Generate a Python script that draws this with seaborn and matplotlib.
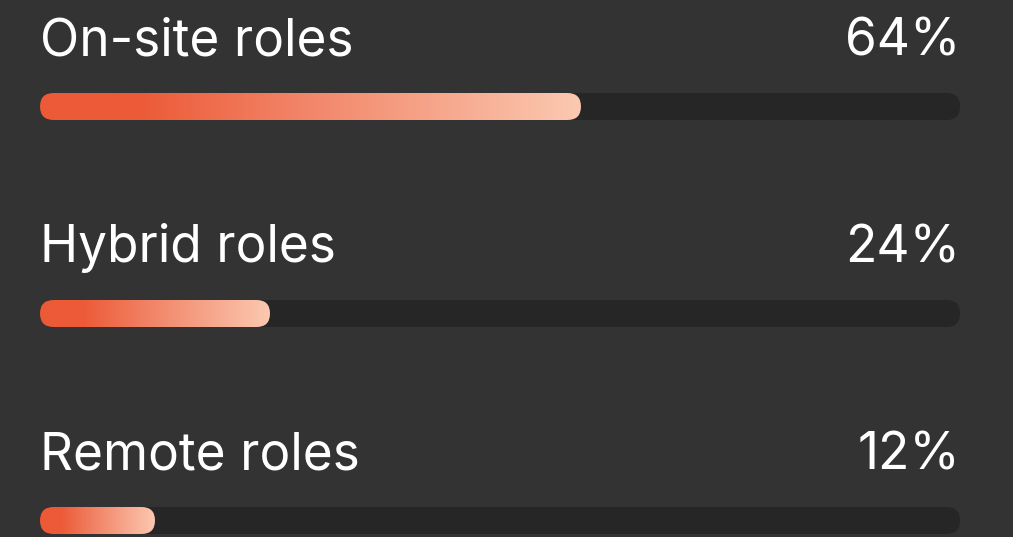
import numpy as np
import pandas as pd
import matplotlib.pyplot as plt
import seaborn as sns
from matplotlib.patches import FancyBboxPatch
from matplotlib.colors import LinearSegmentedColormap

# data
roles = ['On-site roles', 'Hybrid roles', 'Remote roles']
pct_labels = ['64%', '24%', '12%']
bar_length = [58.8, 25.0, 12.5]   # filled length of each bar as drawn (out of 100)
track = [100, 100, 100]

bg = '#333333'
track_col = '#262626'
grad = LinearSegmentedColormap.from_list(
    'g', [(0, '#ec5a37'), (0.18, '#ec5a37'), (0.5, '#f2876a'), (1, '#fbc9b1')])

W, H = 1013, 537
fig = plt.figure(figsize=(W / 100, H / 100), dpi=100, facecolor=bg)
ax = fig.add_axes([40 / W, 0, 920 / W, 1])
ax.set_facecolor(bg)

df = pd.DataFrame({'role': roles, 'track': track, 'fill': bar_length})
bh = 27 / 207  # bar thickness in category units
sns.barplot(data=df, x='track', y='role', orient='h', color=track_col, width=bh, ax=ax)
sns.barplot(data=df, x='fill', y='role', orient='h', color='#ec5a37', width=bh, ax=ax)

xpx = 920 / 100   # px per x unit
ypx = 207         # px per category unit
aspect = xpx / ypx
rad = (27 / 2) / xpx

bars = list(ax.patches)
for i, p in enumerate(bars):
    x, y, w, h = p.get_x(), p.get_y(), p.get_width(), p.get_height()
    p.set_visible(False)
    rp = FancyBboxPatch((x, y), w, h, boxstyle=f'round,pad=0,rounding_size={rad}',
                        mutation_aspect=aspect, linewidth=0,
                        facecolor=track_col if i < 3 else 'none')
    ax.add_patch(rp)
    if i >= 3:
        g = np.linspace(0, 1, 256).reshape(1, -1)
        im = ax.imshow(g, cmap=grad, extent=(x, x + w, y + h, y), aspect='auto',
                       interpolation='bicubic', zorder=3)
        im.set_clip_path(rp)

for i, (r, t) in enumerate(zip(roles, pct_labels)):
    ty = i - 51.5 / ypx
    ax.text(0, ty, r, color='white', fontsize=37, family=['Inter', 'DejaVu Sans'],
            va='baseline', ha='left')
    ax.text(100, ty, t, color='white', fontsize=37, family=['Inter', 'DejaVu Sans'],
            va='baseline', ha='right')

ax.set_xlim(0, 100)
ax.set_ylim(2 + 16.5 / ypx, -106.5 / ypx)
ax.axis('off')

fig.savefig('out.png', dpi=100, facecolor=bg)
